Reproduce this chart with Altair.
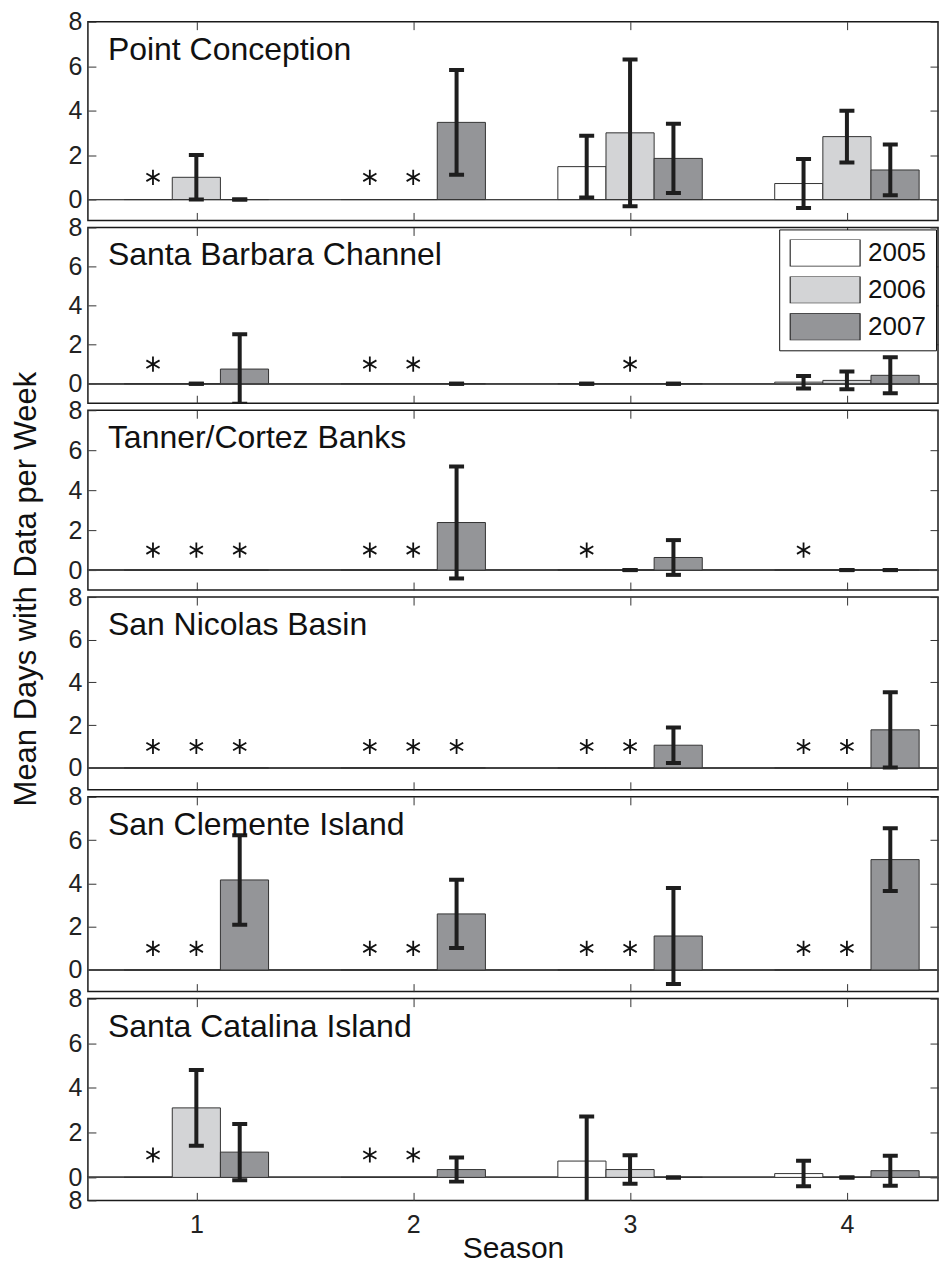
import altair as alt
import pandas as pd

FONT = "Liberation Sans, Arial, Helvetica, sans-serif"

sites = ["Point Conception", "Santa Barbara Channel", "Tanner/Cortez Banks",
         "San Nicolas Basin", "San Clemente Island", "Santa Catalina Island"]
seasons = [1, 2, 3, 4]
years = ["2005", "2006", "2007"]
fills = ["#ffffff", "#d3d4d6", "#949598"]

# values ordered season 1 (2005, 2006, 2007), season 2 (...), ...; None = no data (*)
point_conception_mean = [None, 1.0, 0.0, None, None, 3.47, 1.48, 3.0, 1.85, 0.72, 2.83, 1.33]
point_conception_err = [None, 1.0, 0.0, None, None, 2.36, 1.39, 3.3, 1.56, 1.1, 1.16, 1.14]
santa_barbara_mean = [None, 0.0, 0.75, None, None, 0.0, 0.0, None, 0.0, 0.08, 0.17, 0.43]
santa_barbara_err = [None, 0.0, 1.78, None, None, 0.0, 0.0, None, 0.0, 0.32, 0.45, 0.92]
tanner_cortez_mean = [None, None, None, None, None, 2.38, None, 0.0, 0.63, None, 0.0, 0.0]
tanner_cortez_err = [None, None, None, None, None, 2.8, None, 0.0, 0.87, None, 0.0, 0.0]
san_nicolas_mean = [None, None, None, None, None, None, None, None, 1.06, None, None, 1.78]
san_nicolas_err = [None, None, None, None, None, None, None, None, 0.83, None, None, 1.76]
san_clemente_mean = [None, None, 4.16, None, None, 2.59, None, None, 1.57, None, None, 5.1]
san_clemente_err = [None, None, 2.07, None, None, 1.58, None, None, 2.22, None, None, 1.45]
santa_catalina_mean = [None, 3.11, 1.13, None, None, 0.35, 0.73, 0.35, 0.0, 0.17, 0.0, 0.3]
santa_catalina_err = [None, 1.69, 1.26, None, None, 0.54, 1.99, 0.64, 0.0, 0.57, 0.0, 0.67]

site_means = [point_conception_mean, santa_barbara_mean, tanner_cortez_mean,
              san_nicolas_mean, san_clemente_mean, santa_catalina_mean]
site_errs = [point_conception_err, santa_barbara_err, tanner_cortez_err,
             san_nicolas_err, san_clemente_err, santa_catalina_err]

y_title = "Mean Days with Data per Week"
x_title = "Season"

panel_heights = [199, 176, 180, 193, 195, 202]
panel_ymin = [-0.94, -1.0, -1.0, -1.03, -1.0, -1.03]

STAR = "M0,-1L0,1M-0.87,-0.5L0.87,0.5M-0.87,0.5L0.87,-0.5"
SWATCH = "M-1,-0.386H1V0.386H-1Z"
INK = "#1e1e1e"


def make_panel(idx):
    site = sites[idx]
    rows = []
    for k, (m, e) in enumerate(zip(site_means[idx], site_errs[idx])):
        rows.append(dict(season=seasons[k // 3], year=years[k % 3], yi=k % 3,
                         missing=m is None,
                         mean=0.0 if m is None else m,
                         err=0.0 if e is None else e))
    df = pd.DataFrame(rows)
    last = idx == len(sites) - 1
    ymin = panel_ymin[idx]

    xs = alt.Scale(domain=[0.5, 4.42], nice=False, zero=False)
    ys = alt.Scale(domain=[ymin, 8], nice=False, zero=False)

    base = alt.Chart(df).transform_calculate(
        xb0="datum.season + (datum.yi - 1) * 0.222 - 0.111",
        xb1="datum.season + (datum.yi - 1) * 0.222 + 0.111",
        xe="datum.season + (datum.yi - 1) * 0.2",
        lo="datum.mean - datum.err",
        hi="datum.mean + datum.err",
        base0="0",
        star="1",
    )

    # labelled bottom axis (last panel only), tick-only axes on all four sides
    if last:
        x_labels = alt.Axis(orient="bottom", values=seasons, format="d", ticks=False,
                            tickSize=0, labelPadding=12, title=x_title,
                            titleFontSize=30, titleBaseline="alphabetic",
                            titleY=57, titleAlign="center")
    else:
        x_labels = None
    x_ticks_bottom = alt.Axis(orient="bottom", values=seasons, labels=False,
                              title=None, offset=-8, tickSize=8)
    x_ticks_top = alt.Axis(orient="top", values=seasons, labels=False, title=None,
                           offset=-8, tickSize=8)
    yvals = [0, 2, 4, 6, 8]
    ykw = dict(orient="left", offset=-8, tickSize=8, labelPadding=6,
               labelOverlap=False)
    if last:
        y_left = alt.Axis(values=[ymin] + yvals, title=None,
                          labelExpr="datum.value < -0.5 ? '8' : datum.label", **ykw)
    elif idx == 3:
        y_left = alt.Axis(values=yvals, title=y_title, titleFontSize=31,
                          titleBaseline="alphabetic", titleX=-60, titleY=-8.5,
                          titleAngle=270, titleAlign="center", **ykw)
    else:
        y_left = alt.Axis(values=yvals, title=None, **ykw)
    y_right = alt.Axis(orient="right", values=yvals, labels=False, title=None,
                       offset=-8, tickSize=8)

    if idx == 1:
        leg = alt.Legend(title=None, orient="none", legendX=692, legendY=2,
                         direction="vertical", symbolType=SWATCH, symbolSize=4900,
                         symbolStrokeColor="#222", symbolStrokeWidth=1.2,
                         clipHeight=27, rowPadding=10, padding=10,
                         labelFontSize=26, labelFont=FONT, labelColor="#111",
                         labelOffset=7, strokeColor="#111", fillColor="white",
                         labelLimit=0)
    else:
        leg = None

    zero = base.mark_rule(color="#444", strokeWidth=1).encode(
        y=alt.Y("base0:Q", scale=ys, axis=None))

    bars = base.mark_bar(stroke="#333", strokeWidth=1).encode(
        x=alt.X("xb0:Q", scale=xs, axis=x_labels),
        x2="xb1:Q",
        y=alt.Y("mean:Q", scale=ys, axis=y_left),
        y2="base0:Q",
        fill=alt.Fill("year:N", scale=alt.Scale(domain=years, range=fills), legend=leg),
    )

    present = base.transform_filter("!datum.missing")
    errs = present.mark_rule(color=INK, strokeWidth=4, clip=True).encode(
        x=alt.X("xe:Q", scale=xs, axis=x_ticks_top),
        y=alt.Y("lo:Q", scale=ys, axis=y_right),
        y2="hi:Q",
    )
    cap_hi = present.mark_tick(orient="horizontal", thickness=4, size=15,
                               color=INK, opacity=1, clip=True).encode(
        x=alt.X("xe:Q", scale=xs, axis=x_ticks_bottom),
        y=alt.Y("hi:Q", scale=ys, axis=None))
    cap_lo = present.mark_tick(orient="horizontal", thickness=4, size=15,
                               color=INK, opacity=1, clip=True).encode(
        x=alt.X("xe:Q", scale=xs, axis=None),
        y=alt.Y("lo:Q", scale=ys, axis=None))

    stars = base.transform_filter("datum.missing").mark_point(
        shape=STAR, size=230, color="#111", strokeWidth=1.8, filled=False,
        opacity=1).encode(
        x=alt.X("xe:Q", scale=xs, axis=None),
        y=alt.Y("star:Q", scale=ys, axis=None))

    label = alt.Chart(pd.DataFrame({"site": [site]})).mark_text(
        align="left", baseline="alphabetic", fontSize=32, font=FONT,
        color="#111").encode(text="site:N", x=alt.value(20), y=alt.value(38))

    return alt.layer(zero, bars, errs, cap_hi, cap_lo, stars, label).resolve_axis(
        x="independent", y="independent").properties(width=851, height=panel_heights[idx])


panels = [make_panel(i) for i in range(len(sites))]

chart = alt.vconcat(*panels, spacing=7, bounds="flush").resolve_legend(
    fill="independent").properties(
    padding={"left": 2, "top": 0, "right": 0, "bottom": 0},
).configure_view(stroke="#1a1a1a", strokeWidth=1.5).configure_axis(
    labelFont=FONT, labelFontSize=25, labelColor="#222", tickColor="#333",
    tickWidth=1, domain=False, grid=False, titleFont=FONT, titleFontSize=30,
    titleFontWeight="normal", titleColor="#111",
)

chart.save("out.html", embed_options={"renderer": "svg", "actions": False})
